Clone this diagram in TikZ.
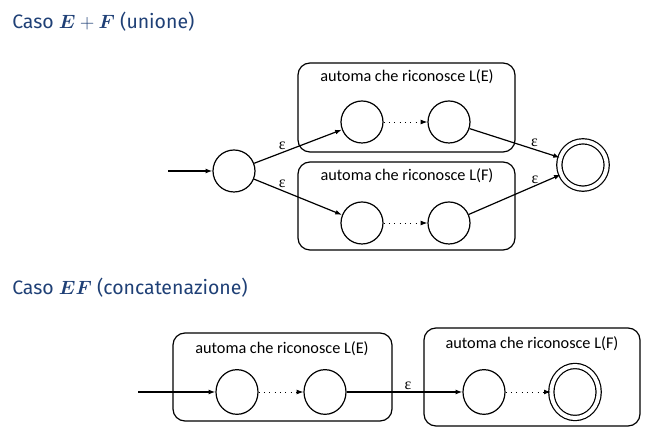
\documentclass[tikz,border=0pt]{standalone}
\usepackage{amsmath}
\usepackage{amssymb}
\usepackage{fontspec}
\setmainfont{Fira Sans}
\newfontfamily\boxfont{Carlito}
\newfontfamily\epsfont{Liberation Serif}
\usepackage{tikz}
\usetikzlibrary{positioning,shapes,arrows.meta}
\usepackage{xcolor}
\definecolor{titleblue}{RGB}{31,64,118}
\tikzstyle{state}=[circle, draw=black, line width=0.9pt, minimum size=31.5pt, inner sep=0pt]
\tikzstyle{final}=[state, double, double distance=3pt, minimum size=35.5pt]
\tikzstyle{tallstate}=[ellipse, draw=black, line width=0.9pt, minimum width=31.5pt, minimum height=33.5pt, inner sep=0pt]
\tikzstyle{tallfinal}=[tallstate, double, double distance=3pt, minimum width=35.5pt, minimum height=39pt]
\tikzstyle{automa}=[draw=black, line width=0.9pt, rounded corners=9pt]
\tikzstyle{boxlabel}=[font=\boxfont\fontsize{12.2}{14}\selectfont, inner sep=0pt]
\tikzstyle{trans}=[-{Latex[length=5pt,width=3.6pt]}, line width=0.9pt]
\tikzstyle{dots}=[-{Latex[length=5pt,width=3.6pt]}, line width=0.7pt, dash pattern=on 0.7pt off 3.3pt]
\tikzstyle{eps}=[font=\epsfont\fontsize{12}{12}\selectfont, inner sep=1.5pt]
\tikzstyle{caso}=[anchor=west, text=titleblue, font=\fontsize{14.6}{17}\selectfont, inner sep=0pt]

\begin{document}
\begin{tikzpicture}[x=0.75pt, y=-0.75pt]
            \useasboundingbox (0,0) rectangle (651,434);

            \node (t1)[caso] at (12,22) {Caso $\boldsymbol{E}+\boldsymbol{F}$ (unione)};
            \node (t2)[caso] at (12,288) {Caso $\boldsymbol{EF}$ (concatenazione)};

            \draw [automa] (298,63) rectangle (515,152);
            \draw [automa] (298,162) rectangle (515,250);
            \node (lE)[boxlabel] at (407,77) {automa che riconosce L(E)};
            \node (lF)[boxlabel] at (407,176) {automa che riconosce L(F)};

            \coordinate (in1) at (168,171);
            \node (1)[state] at (234,171) {};
            \node (2)[state] at (362,122) {};
            \node (3)[state] at (449,122) {};
            \node (4)[state] at (362,223) {};
            \node (5)[state] at (449,223) {};
            \node (6)[final] at (583,165) {};

            \draw [trans] (in1) to (1);
            \draw [trans] (1) to node [eps, pos=0.32, above]{ε} (2);
            \draw [trans] (1) to node [eps, pos=0.32, above]{ε} (4);
            \draw [dots] (2) to (3);
            \draw [dots] (4) to (5);
            \draw [trans] (3) to node [eps, pos=0.72, above]{ε} (6);
            \draw [trans] (5) to node [eps, pos=0.72, above]{ε} (6);

            \draw [automa] (173,333) rectangle (392,421);
            \draw [automa] (424,328) rectangle (640,426);
            \node (lE2)[boxlabel] at (282,349) {automa che riconosce L(E)};
            \node (lF2)[boxlabel] at (532,344) {automa che riconosce L(F)};

            \coordinate (in2) at (138,392);
            \node (11)[tallstate] at (237,392) {};
            \node (12)[tallstate] at (325,392) {};
            \node (13)[tallstate] at (484,392) {};
            \node (14)[tallfinal] at (575,392) {};

            \draw [trans] (in2) to (11);
            \draw [dots] (11) to (12);
            \draw [trans] (12) to node [eps, pos=0.53, above]{ε} (13);
            \draw [dots] (13) to (14);
        \end{tikzpicture}
\end{document}
